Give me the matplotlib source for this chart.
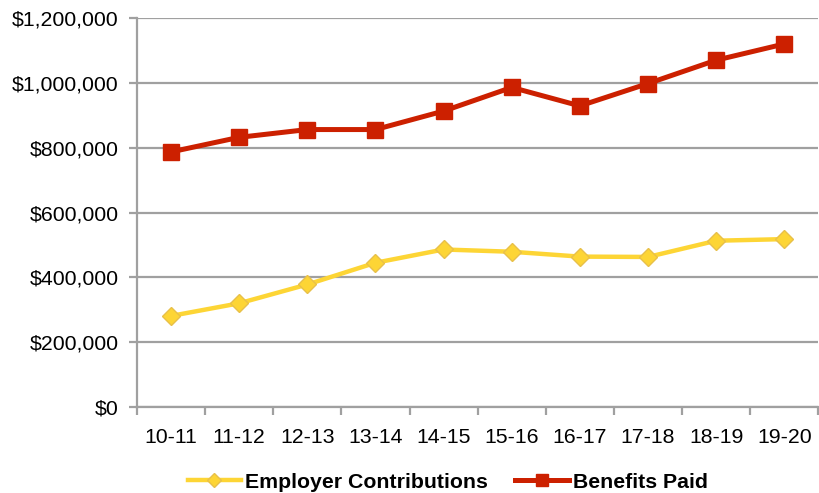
import matplotlib
matplotlib.use("Agg")
import matplotlib.pyplot as plt
from matplotlib.ticker import FuncFormatter, FixedLocator
import numpy as np

years = ["10-11", "11-12", "12-13", "13-14", "14-15", "15-16", "16-17", "17-18", "18-19", "19-20"]
employer_contributions = [281000, 320000, 378000, 445000, 486000, 479000, 464000, 463000, 513000, 518000]
benefits_paid = [787000, 832000, 856000, 856000, 913000, 986000, 929000, 998000, 1070000, 1120000]
y_ticks = [0, 200000, 400000, 600000, 800000, 1000000, 1200000]

plt.rcParams['font.family'] = ['Liberation Sans', 'DejaVu Sans']

fig = plt.figure(figsize=(8.2, 4.93), dpi=100)
ax = fig.add_axes([0.167, 0.1744, 0.831, 0.789])

grid_c = "#A0A0A0"
yellow = "#FDD535"
red = "#CC2000"
fs = 15.3

x = np.arange(len(years))
ax.plot(x, employer_contributions, color=yellow, lw=3.2, marker="D", ms=9,
        mfc=yellow, mec="#E8C04A", mew=1.0, label="Employer Contributions", zorder=3)
ax.plot(x, benefits_paid, color=red, lw=3.6, marker="s", ms=12,
        mfc=red, mec=red, label="Benefits Paid", zorder=4)

ax.set_xlim(-0.5, len(years) - 0.5)
ax.set_ylim(0, 1200000)
ax.set_yticks(y_ticks)
ax.yaxis.set_major_formatter(FuncFormatter(lambda v, p: "${:,.0f}".format(v)))
ax.grid(axis="y", color=grid_c, lw=1.6, zorder=0)
ax.set_axisbelow(True)

ax.set_xticks(x)
ax.set_xticklabels(years)
ax.xaxis.set_minor_locator(FixedLocator(np.arange(-0.5, len(years), 1.0)))
ax.tick_params(axis="x", which="major", length=0, pad=15, labelsize=fs)
ax.tick_params(axis="x", which="minor", length=6, width=1.6, color=grid_c)
ax.tick_params(axis="y", length=6, width=1.6, color=grid_c, labelsize=fs, pad=7)

for s in ["top", "right"]:
    ax.spines[s].set_visible(False)
ax.spines["bottom"].set_color(grid_c)
ax.spines["bottom"].set_linewidth(1.6)
ax.spines["left"].set_color(grid_c)
ax.spines["left"].set_linewidth(1.6)

leg = fig.legend(loc="center", bbox_to_anchor=(0.546, 0.022), ncol=2, frameon=False,
                 prop={"weight": "bold", "size": fs}, handlelength=2.5,
                 columnspacing=1.3, handletextpad=0.2, markerscale=0.75)

fig.savefig("out.png", dpi=100)
